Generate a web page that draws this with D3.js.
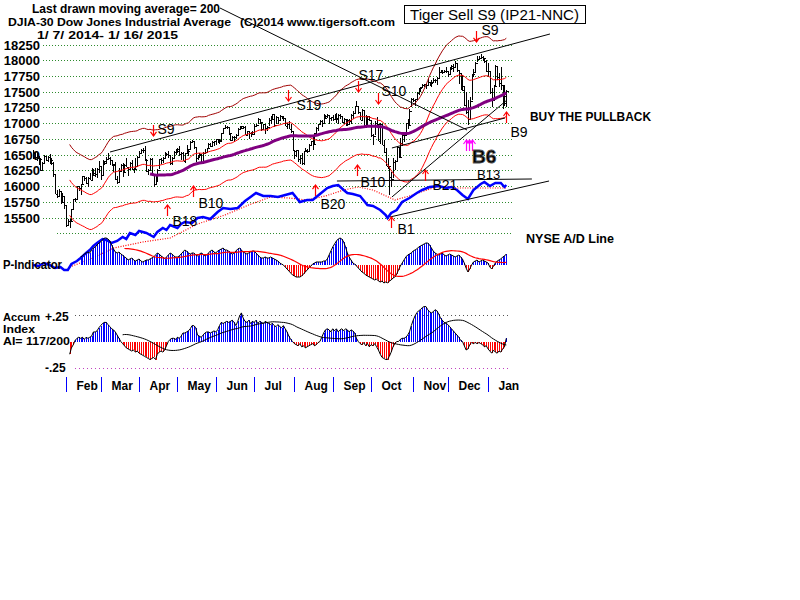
<!DOCTYPE html>
<html><head><meta charset="utf-8">
<script src="https://cdn.jsdelivr.net/npm/d3@7"></script>
<style>
body{margin:0;background:#fff;}
svg{display:block;}
text{font-family:"Liberation Sans",Arial,sans-serif;}
</style>
</head><body>
<svg id="c" width="800" height="600"></svg>
<script>
// ---------------- DATA ----------------
// DJIA daily closes, 1/7/2014 .. 1/16/2015 (trading-day index 0..259)
const closes=[
16531,16463,16445,16437,16258,16374,16482,16417,16459,16414,
16373,16197,15879,15838,15929,15739,15849,15699,15373,15445,
15440,15629,15794,15802,15995,15964,16028,16154,16130,16041,
16133,16103,16207,16180,16198,16273,16322,16168,16396,16360,
16422,16453,16419,16351,16340,16109,16066,16247,16336,16222,
16331,16303,16277,16368,16269,16264,16323,16458,16533,16573,
16573,16413,16246,16256,16437,16170,16027,16173,16263,16425,
16409,16449,16514,16502,16501,16361,16449,16535,16581,16559,
16513,16531,16401,16519,16551,16583,16695,16715,16614,16447,
16491,16512,16374,16533,16543,16606,16676,16633,16699,16717,
16744,16722,16738,16836,16924,16943,16946,16844,16734,16776,
16781,16808,16907,16921,16947,16937,16818,16868,16846,16852,
16827,16956,16976,17068,17024,16906,16986,16915,16944,17055,
17061,17138,16977,17100,17052,17114,17087,17084,16961,16983,
16912,16880,16563,16493,16569,16429,16443,16368,16554,16570,
16561,16652,16714,16663,16839,16920,16979,17039,17001,17077,
17107,17122,17080,17098,17068,17078,17070,17137,17111,17014,
17069,17049,16988,17031,17132,17157,17266,17280,17173,17056,
17210,16946,17113,17071,17043,16805,16801,17010,16992,16719,
16994,16659,16544,16321,16315,16142,16117,16380,16400,16615,
16461,16678,16805,16818,17006,16974,17195,17391,17366,17384,
17485,17554,17574,17614,17615,17612,17653,17635,17648,17688,
17686,17719,17810,17818,17815,17828,17828,17777,17880,17913,
17900,17959,17852,17801,17533,17596,17281,17181,17069,17357,
17778,17805,17959,18024,18030,18054,18038,17983,17823,17833,
17502,17372,17585,17908,17737,17641,17614,17427,17321,17512];
const highs=[
16580,16535,16530,16485,16440,16380,16490,16480,16480,16510,
16440,16375,16195,15945,15950,15925,15890,15845,15700,15480,
15480,15635,15800,15815,16005,16000,16040,16160,16165,16150,
16140,16200,16290,16270,16280,16285,16400,16320,16410,16400,
16460,16530,16455,16420,16350,16375,16155,16280,16345,16370,
16350,16450,16310,16390,16420,16290,16440,16480,16560,16595,
16605,16630,16430,16270,16440,16450,16165,16190,16275,16430,
16450,16460,16540,16520,16560,16500,16460,16560,16585,16605,
16630,16535,16540,16530,16650,16590,16710,16735,16720,16615,
16500,16520,16515,16540,16590,16610,16690,16690,16710,16720,
16750,16740,16740,16845,16930,16970,16960,16945,16850,16800,
16800,16830,16915,16960,16960,16960,16960,16880,16870,16855,
16880,16980,16990,17075,17070,17020,16990,16985,16960,17085,
17120,17150,17140,17110,17100,17130,17120,17110,17080,17000,
17040,16980,16870,16570,16580,16560,16490,16520,16565,16600,
16590,16670,16720,16800,16850,16935,16990,17050,17050,17150,
17130,17140,17120,17100,17130,17150,17160,17140,17150,17115,
17075,17060,17060,17070,17150,17200,17270,17350,17280,17175,
17220,17200,17130,17110,17120,17040,16830,17030,17100,16990,
17010,16990,16730,16600,16450,16310,16220,16450,16410,16620,
16610,16760,16820,16830,17010,17060,17220,17400,17400,17390,
17500,17560,17580,17630,17630,17620,17710,17660,17680,17710,
17700,17730,17900,17840,17840,17840,17890,17830,17890,17920,
17940,17990,17960,17830,17800,17770,17590,17490,17370,17420,
17780,17860,17970,18070,18060,18100,18070,18040,18000,17950,
17830,17560,17600,17920,17910,17790,17900,17610,17600,17520];
const lows=[
16430,16410,16400,16340,16240,16255,16370,16400,16380,16355,
16330,16150,15875,15805,15835,15715,15740,15630,15356,15360,
15340,15440,15630,15740,15800,15925,15860,16020,16080,16030,
15985,16100,16100,16155,16150,16130,16210,16100,16170,16330,
16360,16420,16340,16320,16230,16090,16030,16070,16225,16150,
16200,16300,16160,16270,16260,16200,16260,16320,16455,16520,
16520,16400,16230,16170,16255,16155,15985,16030,16060,16265,
16350,16370,16450,16480,16450,16330,16340,16450,16500,16530,
16480,16410,16400,16370,16510,16480,16580,16680,16590,16375,
16410,16450,16350,16375,16520,16540,16600,16620,16630,16640,
16660,16680,16670,16700,16840,16920,16900,16810,16720,16730,
16700,16750,16790,16900,16910,16910,16810,16790,16750,16780,
16810,16830,16940,16980,16990,16880,16900,16820,16880,16950,
16990,17060,16940,16980,16990,17050,17060,17030,16950,16900,
16900,16850,16560,16430,16460,16380,16350,16330,16340,16550,
16520,16560,16640,16570,16670,16840,16880,16980,16940,17005,
17070,17080,16990,17040,17040,17050,17000,16990,17070,17000,
16990,16960,16960,16990,16980,17070,17160,17250,17140,17050,
17040,16940,16950,16950,17030,16780,16650,16810,16960,16710,
16670,16650,16530,16320,16270,15855,15990,16120,16260,16400,
16450,16460,16630,16700,16820,16900,16950,17250,17330,17280,
17390,17450,17490,17560,17580,17540,17610,17590,17570,17640,
17640,17600,17720,17790,17780,17800,17800,17730,17760,17850,
17820,17890,17810,17630,17520,17530,17270,17150,16970,17060,
17360,17740,17800,17970,18010,18030,17990,17960,17810,17730,
17470,17260,17380,17590,17690,17580,17520,17220,17280,17260];

const monthStarts=[18,37,58,79,100,121,143,164,185,208,227,249];
const monthLabels=["Feb","Mar","Apr","May","Jun","Jul","Aug","Sep","Oct","Nov","Dec","Jan"];
const priceTicks=[18250,18000,17750,17500,17250,17000,16750,16500,16250,16000,15750,15500];
const extraGrid=[15250];

// P-Indicator (starts at day 26)
const pStart=26;
const pValues=[
8,9,11,12,13,12,15,17,18,20,
22,23,25,27,27,26,24,20,16,13,
12,13,11,10,8,7,5,6,7,5,
4,5,6,4,3,4,5,5,6,7,
8,10,12,11,9,8,6,8,10,12,
11,9,8,8,9,11,13,15,14,12,
11,12,12,10,9,11,12,11,9,10,
12,14,15,13,12,14,15,16,17,15,
15,14,12,11,12,14,16,17,15,13,
12,11,12,13,14,14,12,10,8,7,
7,8,7,7,8,7,6,5,4,2,
1,0,-2,-4,-6,-8,-10,-11,-12,-12,
-12,-11,-9,-7,-5,-3,-1,1,2,3,
3,3,3,4,4,6,10,14,18,21,
24,26,27,26,23,18,12,8,5,2,
1,-1,-3,-5,-7,-8,-10,-11,-12,-13,
-14,-15,-14,-16,-17,-16,-18,-17,-18,-16,
-15,-13,-12,-9,-5,-1,2,5,8,10,
11,12,14,15,16,18,19,20,21,22,
22,20,17,14,12,11,10,11,12,10,
9,10,11,10,9,8,9,10,8,6,
2,-3,-7,-4,0,3,4,5,3,4,
5,4,3,2,-2,-4,-1,2,4,5,
6,8,9,11];

// Accumulation Index in hundredths (starts at day 20)
const aiStart=20;
const aiValues=[
-12,-6,-3,1,3,4,3,4,2,4,
3,4,5,9,9,10,13,15,17,18,
18,16,14,12,11,9,6,3,0,-2,
-4,-6,-7,-8,-9,-8,-10,-9,-11,-12,
-13,-14,-15,-16,-17,-16,-15,-17,-12,-10,
-9,-10,-8,-4,0,2,3,3,2,4,
3,5,8,8,9,10,12,15,15,13,
6,5,4,6,8,9,9,8,9,10,
9,11,15,18,17,18,19,18,19,20,
18,15,19,24,27,22,19,18,20,17,
19,18,20,17,19,18,17,19,18,17,
16,17,15,14,16,14,13,15,12,9,
5,2,0,-2,-3,-4,-2,-5,-4,-6,
-5,-4,-3,-2,-4,-3,-1,0,4,8,
11,12,11,9,12,10,12,9,11,12,
10,12,11,9,11,10,8,3,0,-2,
-3,-1,-4,-2,-5,-3,-4,-2,-5,-8,
-12,-15,-16,-17,-17,-14,-10,-5,-2,0,
0,2,3,3,4,6,9,15,20,24,
27,29,30,32,33,33,30,28,27,28,
30,29,26,22,20,18,17,16,14,12,
10,8,6,4,1,0,-4,-8,-7,-3,
-1,-2,-1,-2,-1,-2,-3,-5,-4,-7,
-9,-11,-8,-10,-11,-9,-10,-7,-5,3];

// NYSE A/D line readings (day index, relative level)
const adIdx=[0,3,6,9,12,15,17,19,21,24,26,29,31,33,35,38,40,43,46,49,51,53,56,58,62,66,68,71,73,75,79,81,83,87,90,93,97,101,104,108,112,116,119,122,126,130,134,138,142,146,150,153,157,161,164,167,170,172,175,179,183,186,190,193,194,196,199,202,206,210,213,217,222,226,229,232,235,238,241,245,247,250,253,256,258,259];
const adVal=[5,4,7,5,2,3,0,0,6,9,12,17,20,24,27,31,30,27,29,33,31,37,35,39,37,33,38,42,40,45,42,46,48,47,52,53,51,58,62,61,62,69,73,77,74,74,73,75,77,68,70,70,76,82,84,85,80,77,76,74,65,64,60,55,52,57,60,68,72,77,80,83,84,82,83,80,75,71,80,86,88,84,87,87,83,85];
// its moving average (red dotted)
const adMaIdx=[20,30,44,60,75,90,105,118,130,140,150,160,170,178,186,192,198,206,214,222,232,242,259];
const adMaVal=[3,10,22,28,32,46,55,65,73,72,70,74,80,83,80,75,70,74,79,84,82,82,82];

// Trend lines (day index, price)
const trendLines=[
  [[102.3,18830],[237.5,16891]],
  [[42.1,16541],[282.9,18417]],
  [[195.3,15508],[282.4,16080]],
  [[166.3,16080],[273.0,16112]],
  [[196.4,16605],[258.3,17082]],
  [[196.4,15826],[259.4,17368]]
];

// Signals (arrow tip at day index / price)
const sigLabels=["S9","S19","S17","S10","S9","B18","B10","B20","B10","B1","B21","B9"];
const sigIdx=[65.6,139.5,177.8,188.8,242.4,73.3,87.5,154.3,177.3,195.9,214.5,258.8];
const sigPrice=[16796,17352,17495,17304,18290,15699,16000,16016,16334,15508,16255,17177];
const b6Idx=[236.9,238.5,240.2];
const b6Price=16732;

// ---------------- LAYOUT ----------------
const labelOffsets=[[4,-2],[8,9],[0,-12],[3,-8],[5,-7],[5,21],[5,22],[5,24],[3,22],[6,17],[7,20],[4,25]];

const svg=d3.select("#c");
const x=d3.scaleLinear().domain([0,259]).range([33.1,506.3]);
const y=d3.scaleLinear().domain([15500,18250]).range([217.5,44.5]);
const yAD=d3.scaleLinear().domain([0,90]).range([270,180]);
const yP=d3.scaleLinear().domain([-20,30]).range([285,235]);
const yAI=d3.scaleLinear().domain([-25,25]).range([368,315]);
const px=i=>Math.round(x(i))+0.5;

function sma(arr,n,offset){
  const out=[];
  for(let k=n-1;k<arr.length;k++){
    let s=0; for(let j=k-n+1;j<=k;j++) s+=arr[j];
    out.push({i:k+offset,v:s/n});
  }
  return out;
}

// grid
const grid=svg.append("g");
priceTicks.concat(extraGrid).forEach(v=>{
  grid.append("line").attr("x1",v===15250?57:43).attr("x2",512)
    .attr("y1",Math.round(y(v))+0.5).attr("y2",Math.round(y(v))+0.5)
    .attr("stroke","#2e8b2e").attr("stroke-width",1).attr("stroke-dasharray","1,2");
});
priceTicks.forEach(v=>{
  svg.append("text").attr("x",40).attr("y",y(v)+5).attr("text-anchor","end")
    .attr("font-size",13).attr("font-weight","bold").text(v);
});

// price bars
const bars=svg.append("g").attr("shape-rendering","crispEdges");
closes.forEach((c,i)=>{
  bars.append("line").attr("x1",px(i)).attr("x2",px(i))
    .attr("y1",y(highs[i])).attr("y2",y(lows[i])).attr("stroke","#000");
  bars.append("line").attr("x1",px(i)).attr("x2",px(i)+2)
    .attr("y1",Math.round(y(c))+0.5).attr("y2",Math.round(y(c))+0.5).attr("stroke","#000");
});

// moving averages and bands
const ma21=sma(closes,21,0);
const line=d3.line().x(d=>x(d.i)).y(d=>y(d.v));
svg.append("path").datum(ma21.map(d=>({i:d.i,v:d.v*1.035}))).attr("d",line)
  .attr("fill","none").attr("stroke","#a00000").attr("stroke-width",1);
svg.append("path").datum(ma21.map(d=>({i:d.i,v:d.v*0.965}))).attr("d",line)
  .attr("fill","none").attr("stroke","#ff0000").attr("stroke-width",1);
svg.append("path").datum(ma21).attr("d",line)
  .attr("fill","none").attr("stroke","#ff0000").attr("stroke-width",1);
const ma65=sma(closes,65,0);
svg.append("path").datum(ma65).attr("d",line)
  .attr("fill","none").attr("stroke","#800080").attr("stroke-width",3);

// A/D line
svg.append("path").datum(adMaIdx.map((d,k)=>[x(d),yAD(adMaVal[k])])).attr("d",d3.line())
  .attr("fill","none").attr("stroke","#ff0000").attr("stroke-width",1.2).attr("stroke-dasharray","1,1.5");
svg.append("path").datum(adIdx.map((d,k)=>[x(d),yAD(adVal[k])])).attr("d",d3.line())
  .attr("fill","none").attr("stroke","#0000ff").attr("stroke-width",2.5);

// trend lines
trendLines.forEach(t=>{
  svg.append("line").attr("x1",x(t[0][0])).attr("y1",y(t[0][1]))
    .attr("x2",x(t[1][0])).attr("y2",y(t[1][1])).attr("stroke","#000").attr("stroke-width",1);
});

// arrows
function arrow(xx,tip,up,color){
  const tail=up?tip+11:tip-11;
  svg.append("line").attr("x1",xx).attr("x2",xx).attr("y1",tail).attr("y2",tip)
    .attr("stroke",color).attr("stroke-width",1.2);
  const d=up?4:-4;
  svg.append("path").attr("d",`M${xx-3},${tip+d}L${xx},${tip}L${xx+3},${tip+d}`)
    .attr("fill","none").attr("stroke",color).attr("stroke-width",1.2);
}
sigLabels.forEach((lab,k)=>{
  const xx=Math.round(x(sigIdx[k]))+0.5, tip=y(sigPrice[k]);
  arrow(xx,tip,lab[0]==="B","#ff0000");
  svg.append("text").attr("x",xx+labelOffsets[k][0]).attr("y",tip+labelOffsets[k][1])
    .attr("font-size",14).text(lab);
});
b6Idx.forEach(i=>arrow(Math.round(x(i))+0.5,y(b6Price),true,"#ff00ff"));
svg.append("text").attr("x",477).attr("y",179).attr("font-size",13).text("B13");
svg.append("text").attr("x",472).attr("y",163).attr("font-size",19).attr("font-weight",900)
  .attr("fill","#000").attr("stroke","#555").attr("stroke-width",0.8).text("B6");

// P-Indicator panel
const pG=svg.append("g").attr("shape-rendering","crispEdges");
pValues.forEach((v,k)=>{
  const i=pStart+k;
  pG.append("line").attr("x1",px(i)).attr("x2",px(i)).attr("y1",yP(0)).attr("y2",yP(v))
    .attr("stroke",v>=0?"#0000ff":"#ff0000");
});
svg.append("path").datum(pValues.map((v,k)=>[x(pStart+k),yP(v)])).attr("d",d3.line())
  .attr("fill","none").attr("stroke","#000").attr("stroke-width",1);
svg.append("path").datum(sma(pValues,25,pStart)).attr("d",d3.line().x(d=>x(d.i)).y(d=>yP(d.v)))
  .attr("fill","none").attr("stroke","#ff0000").attr("stroke-width",1.2);

// AI panel
[[25,"#555"],[-25,"#c040c0"]].forEach(([v,c])=>{
  svg.append("line").attr("x1",75).attr("x2",510).attr("y1",Math.round(yAI(v))+0.5).attr("y2",Math.round(yAI(v))+0.5)
    .attr("stroke",c).attr("stroke-dasharray","1,3");
});
const aG=svg.append("g").attr("shape-rendering","crispEdges");
aiValues.forEach((v,k)=>{
  const i=aiStart+k;
  aG.append("line").attr("x1",px(i)).attr("x2",px(i)).attr("y1",yAI(0)).attr("y2",yAI(v))
    .attr("stroke",v>=0?"#0000ff":"#ff0000");
});
svg.append("path").datum(aiValues.map((v,k)=>[x(aiStart+k),yAI(v)])).attr("d",d3.line())
  .attr("fill","none").attr("stroke","#000").attr("stroke-width",1);
svg.append("path").datum(sma(aiValues,30,aiStart)).attr("d",d3.line().x(d=>x(d.i)).y(d=>yAI(d.v)))
  .attr("fill","none").attr("stroke","#000").attr("stroke-width",1);

// x axis
monthStarts.forEach((m,k)=>{
  const xx=Math.round(x(m))+0.5;
  svg.append("line").attr("x1",xx).attr("x2",xx).attr("y1",377).attr("y2",392)
    .attr("stroke","#0000ff").attr("stroke-width",1);
  svg.append("text").attr("x",xx+10).attr("y",390).attr("font-size",12).attr("font-weight","bold")
    .text(monthLabels[k]);
});

// texts
const T=(s,xx,yy,opt={})=>{
  const t=svg.append("text").attr("x",xx).attr("y",yy).attr("font-size",opt.size||12)
    .attr("font-weight",opt.weight||"bold").text(s);
  if(opt.len) t.attr("textLength",opt.len).attr("lengthAdjust","spacingAndGlyphs");
  return t;
};
T("Last drawn moving average= 200",32,13,{len:188});
T("DJIA-30  Dow Jones Industrial Average",8,26,{size:11,len:223});
T("(C)2014 www.tigersoft.com",240,26,{size:11,len:155});
T("1/ 7/ 2014- 1/ 16/ 2015",37,39,{size:11,len:141});
svg.append("rect").attr("x",404.5).attr("y",5.5).attr("width",181).attr("height",18)
  .attr("fill","none").attr("stroke","#000");
T("Tiger Sell S9 (IP21-NNC)",410,20,{size:15,weight:"normal",len:169});
T("BUY THE PULLBACK",530,121,{len:121});
T("NYSE A/D Line",526,243,{len:88});
T("P-Indicator",3,269,{len:59});
T("Accum",3,321,{size:10.5,len:37});
T("Index",3,333,{size:10.5,len:32});
T("AI= 117/200",3,345,{size:10.5,len:67});
T("+.25",45,321,{size:12});
T("-.25",45,372,{size:12});
</script>
</body></html>
